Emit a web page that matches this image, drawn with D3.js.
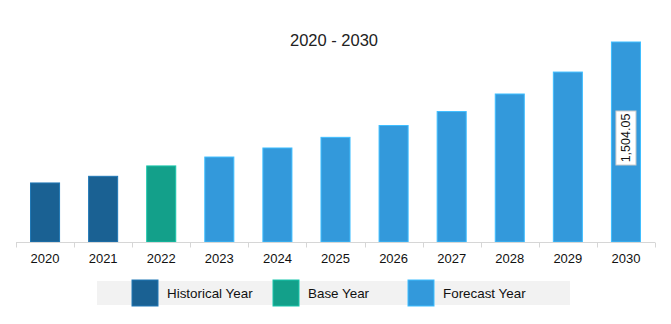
<!DOCTYPE html>
<html>
<head>
<meta charset="utf-8">
<script src="https://cdn.jsdelivr.net/npm/d3@7"></script>
<style>
  html, body { margin: 0; padding: 0; background: #fff; }
  svg { display: block; }
  text { font-family: "Liberation Sans", Arial, sans-serif; }
</style>
</head>
<body>
<svg id="chart" width="671" height="324"></svg>
<script>
const categories = ["2020","2021","2022","2023","2024","2025","2026","2027","2028","2029","2030"];
const values = [444, 494, 572, 639, 707, 787, 876, 981, 1113, 1278, 1504.05];
const yearTypes = ["Historical Year","Historical Year","Base Year","Forecast Year","Forecast Year","Forecast Year","Forecast Year","Forecast Year","Forecast Year","Forecast Year","Forecast Year"];
const legendLabels = ["Historical Year","Base Year","Forecast Year"];
const legendColors = ["#1a6193","#13a08a","#3399db"];
const labelledIndex = [10];
const title = "2020 - 2030";

const svg = d3.select("#chart");
const color = d3.scaleOrdinal().domain(legendLabels).range(legendColors);

const x = d3.scaleBand().domain(categories).range([16, 655]).paddingInner(0.5).paddingOuter(0.25);
const y = d3.scaleLinear().domain([0, 1504.05]).range([242, 42]);

svg.append("text").attr("x", 334).attr("y", 46).attr("text-anchor", "middle")
  .attr("font-size", 16.5).attr("fill", "#222").text(title);

svg.append("g").selectAll("rect").data(categories).join("rect")
  .attr("x", d => x(d))
  .attr("y", (d,i) => y(values[i]))
  .attr("width", x.bandwidth())
  .attr("height", (d,i) => y(0) - y(values[i]))
  .attr("fill", (d,i) => color(yearTypes[i]))
  .attr("stroke", (d,i) => d3.color(color(yearTypes[i])).brighter(0.6))
  .attr("stroke-width", 1);

// axis
const axisG = svg.append("g").attr("transform", "translate(0,242.5)");
axisG.append("line").attr("x1", 16).attr("x2", 655).attr("stroke", "#d6d6d6");
const ticks = d3.range(categories.length + 1).map(i => 16 + i * (639 / categories.length));
axisG.selectAll("line.tick").data(ticks).join("line").attr("class","tick")
  .attr("x1", d => Math.round(d)+0.5).attr("x2", d => Math.round(d)+0.5)
  .attr("y1", 0).attr("y2", 5).attr("stroke", "#d6d6d6");
axisG.selectAll("text").data(categories).join("text")
  .attr("x", d => x(d) + x.bandwidth()/2).attr("y", 20)
  .attr("text-anchor", "middle").attr("font-size", 13).attr("fill", "#111").text(d => d);

// value label
labelledIndex.forEach(i => {
  const cx = x(categories[i]) + x.bandwidth()/2;
  const cy = (y(values[i]) + y(0))/2 - 4;
  const txt = d3.format(",.2f")(values[i]);
  const g = svg.append("g").attr("transform", `translate(${cx},${cy}) rotate(-90)`);
  g.append("rect").attr("x", -27).attr("y", -10).attr("width", 54).attr("height", 20)
    .attr("fill", "#fff").attr("stroke", "#ccc");
  g.append("text").attr("x", 0).attr("y", 4.5).attr("text-anchor", "middle")
    .attr("font-size", 12.5).attr("fill", "#111").text(txt);
});

// legend
const lg = svg.append("g");
lg.append("rect").attr("x", 97).attr("y", 281).attr("width", 473).attr("height", 24).attr("fill", "#f2f2f2");
const legendX = [132, 273, 408];
legendLabels.forEach((l, i) => {
  lg.append("rect").attr("x", legendX[i]).attr("y", 280).attr("width", 26).attr("height", 26)
    .attr("fill", color(l)).attr("stroke", d3.color(color(l)).brighter(0.6));
  lg.append("text").attr("x", legendX[i] + 35).attr("y", 297.5).attr("font-size", 13.4)
    .attr("fill", "#111").text(l);
});
</script>
</body>
</html>
